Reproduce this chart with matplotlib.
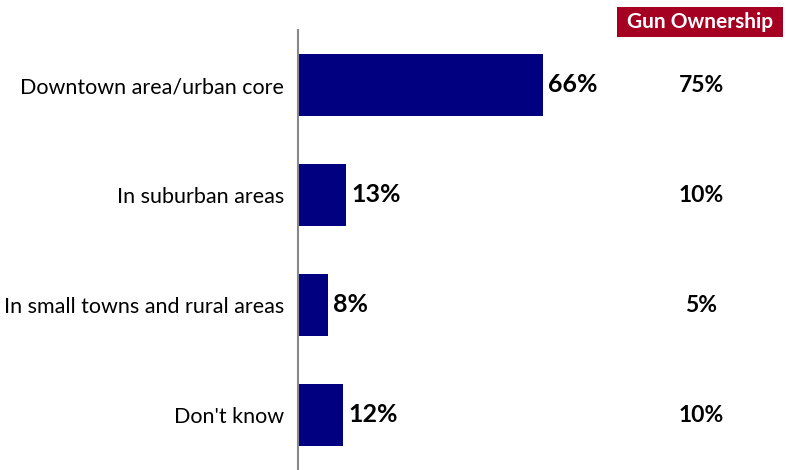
import matplotlib.pyplot as plt
import matplotlib.transforms as mtransforms
from matplotlib.patches import Rectangle

plt.rcParams['font.family'] = ['Lato', 'DejaVu Sans']

categories = ["Downtown area/urban core", "In suburban areas",
              "In small towns and rural areas", "Don't know"]
values = [66, 13, 8, 12]
gun_ownership = [75, 10, 5, 10]

W, H = 786, 470
fig = plt.figure(figsize=(W / 100, H / 100), dpi=100)
ax = fig.add_axes([298 / W, 0, 488 / W, 440 / H])

y = list(range(len(categories)))
ax.barh(y, values, height=0.555, color='#000080')
ax.set_ylim(3.5, -0.5)
ax.set_xlim(0, 488 / 3.71)

for i, v in enumerate(values):
    ax.text(v + 1.5, i, f"{v}%", va='center', ha='left',
            fontsize=18, fontweight='bold', color='black')

# second column of values, placed in figure x / data y
trans = mtransforms.blended_transform_factory(fig.transFigure, ax.transData)
for i, g in enumerate(gun_ownership):
    ax.text(701 / W, i, f"{g}%", transform=trans, va='center', ha='center',
            fontsize=16.5, fontweight='bold', color='black')

# header box
fig.patches.append(Rectangle((617 / W, 1 - 37 / H), 166 / W, 30 / H,
                             transform=fig.transFigure, facecolor='#A50021',
                             edgecolor='none'))
fig.text(700 / W, 1 - 22 / H, "Gun Ownership", ha='center', va='center',
         fontsize=15, fontweight='bold', color='white')

ax.set_yticks(y)
ax.set_yticklabels(categories, fontsize=15.5)
ax.tick_params(axis='y', length=0, pad=10)
ax.set_xticks([])
for s in ['top', 'right', 'bottom']:
    ax.spines[s].set_visible(False)
ax.spines['left'].set_color('#888888')
ax.spines['left'].set_linewidth(1.5)

fig.savefig('out.png', dpi=100)
